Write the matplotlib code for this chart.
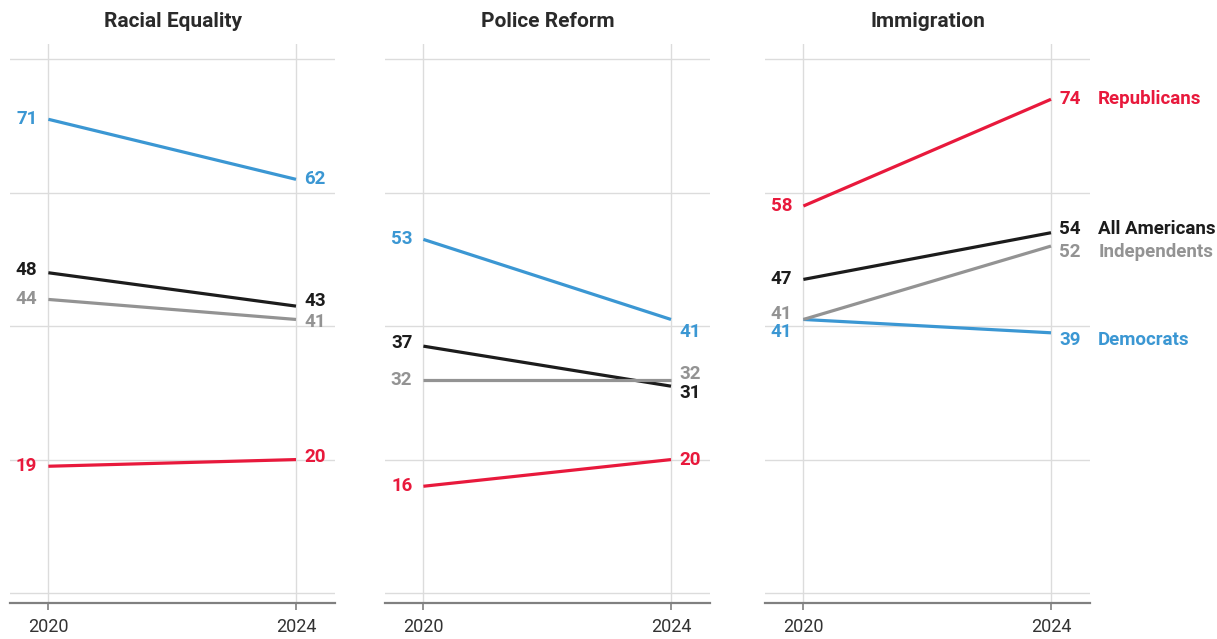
import matplotlib
matplotlib.use("Agg")
import matplotlib.pyplot as plt

plt.rcParams['font.family'] = ['Roboto', 'DejaVu Sans']

years = [2020, 2024]
topics = ["Racial Equality", "Police Reform", "Immigration"]
all_americans = [(48, 43), (37, 31), (47, 54)]
democrats = [(71, 62), (53, 41), (41, 39)]
independents = [(44, 41), (32, 32), (41, 52)]
republicans = [(19, 20), (16, 20), (58, 74)]
group_names = ["All Americans", "Democrats", "Independents", "Republicans"]

colors = ["#1c1c1c", "#3b97d3", "#939393", "#e8193c"]
zorders = [3, 4, 5, 6]

# vertical nudges (points) for the value labels: [panel][series] -> (left, right)
nudge = [
    [(2, 4), (0, 0), (0, -2), (0, 2)],
    [(2, -5), (0, -9), (0, 4), (0, 0)],
    [(0, 3), (-9, -5), (4, -4), (0, 0)],
]

fig = plt.figure(figsize=(12.17, 6.39), dpi=100)
lefts = [10 / 1217, 385 / 1217, 765 / 1217]
series = [all_americans, democrats, independents, republicans]

for p, topic in enumerate(topics):
    ax = fig.add_axes([lefts[p], 0.0563, 325 / 1217, 0.875])
    ax.set_xlim(2019.38, 2024.63)
    ax.set_ylim(-1.5, 82.3)
    for s, data in enumerate(series):
        vals = data[p]
        ax.plot(years, vals, color=colors[s], lw=2.3, zorder=zorders[s],
                solid_capstyle='butt')
        ax.annotate(str(vals[0]), (years[0], vals[0]), xytext=(-8, nudge[p][s][0]),
                    textcoords='offset points', ha='right', va='center',
                    fontsize=13.5, color=colors[s], fontweight='bold')
        ax.annotate(str(vals[1]), (years[1], vals[1]), xytext=(6, nudge[p][s][1]),
                    textcoords='offset points', ha='left', va='center',
                    fontsize=13.5, color=colors[s], fontweight='bold')
        if p == 2:
            ax.annotate(group_names[s], (years[1], vals[1]), xytext=(34, nudge[p][s][1]),
                        textcoords='offset points', ha='left', va='center',
                        fontsize=13.5, color=colors[s], fontweight='bold')
    for gy in [0, 20, 40, 60, 80]:
        ax.axhline(gy, color="#dcdcdc", lw=1, zorder=1)
    for gx in years:
        ax.axvline(gx, color="#dcdcdc", lw=1, zorder=1)
    for side in ['top', 'right', 'left']:
        ax.spines[side].set_visible(False)
    ax.spines['bottom'].set_color("#808080")
    ax.spines['bottom'].set_linewidth(1.6)
    ax.set_yticks([])
    ax.set_xticks(years)
    ax.set_xticklabels([str(y) for y in years])
    ax.tick_params(axis='x', length=5, width=1.2, color="#808080",
                   labelsize=13, labelcolor="#333333", pad=6)
    ax.set_title(topic, fontsize=15, fontweight='bold', color="#2a2a2a", pad=12)

fig.savefig("out.png")
